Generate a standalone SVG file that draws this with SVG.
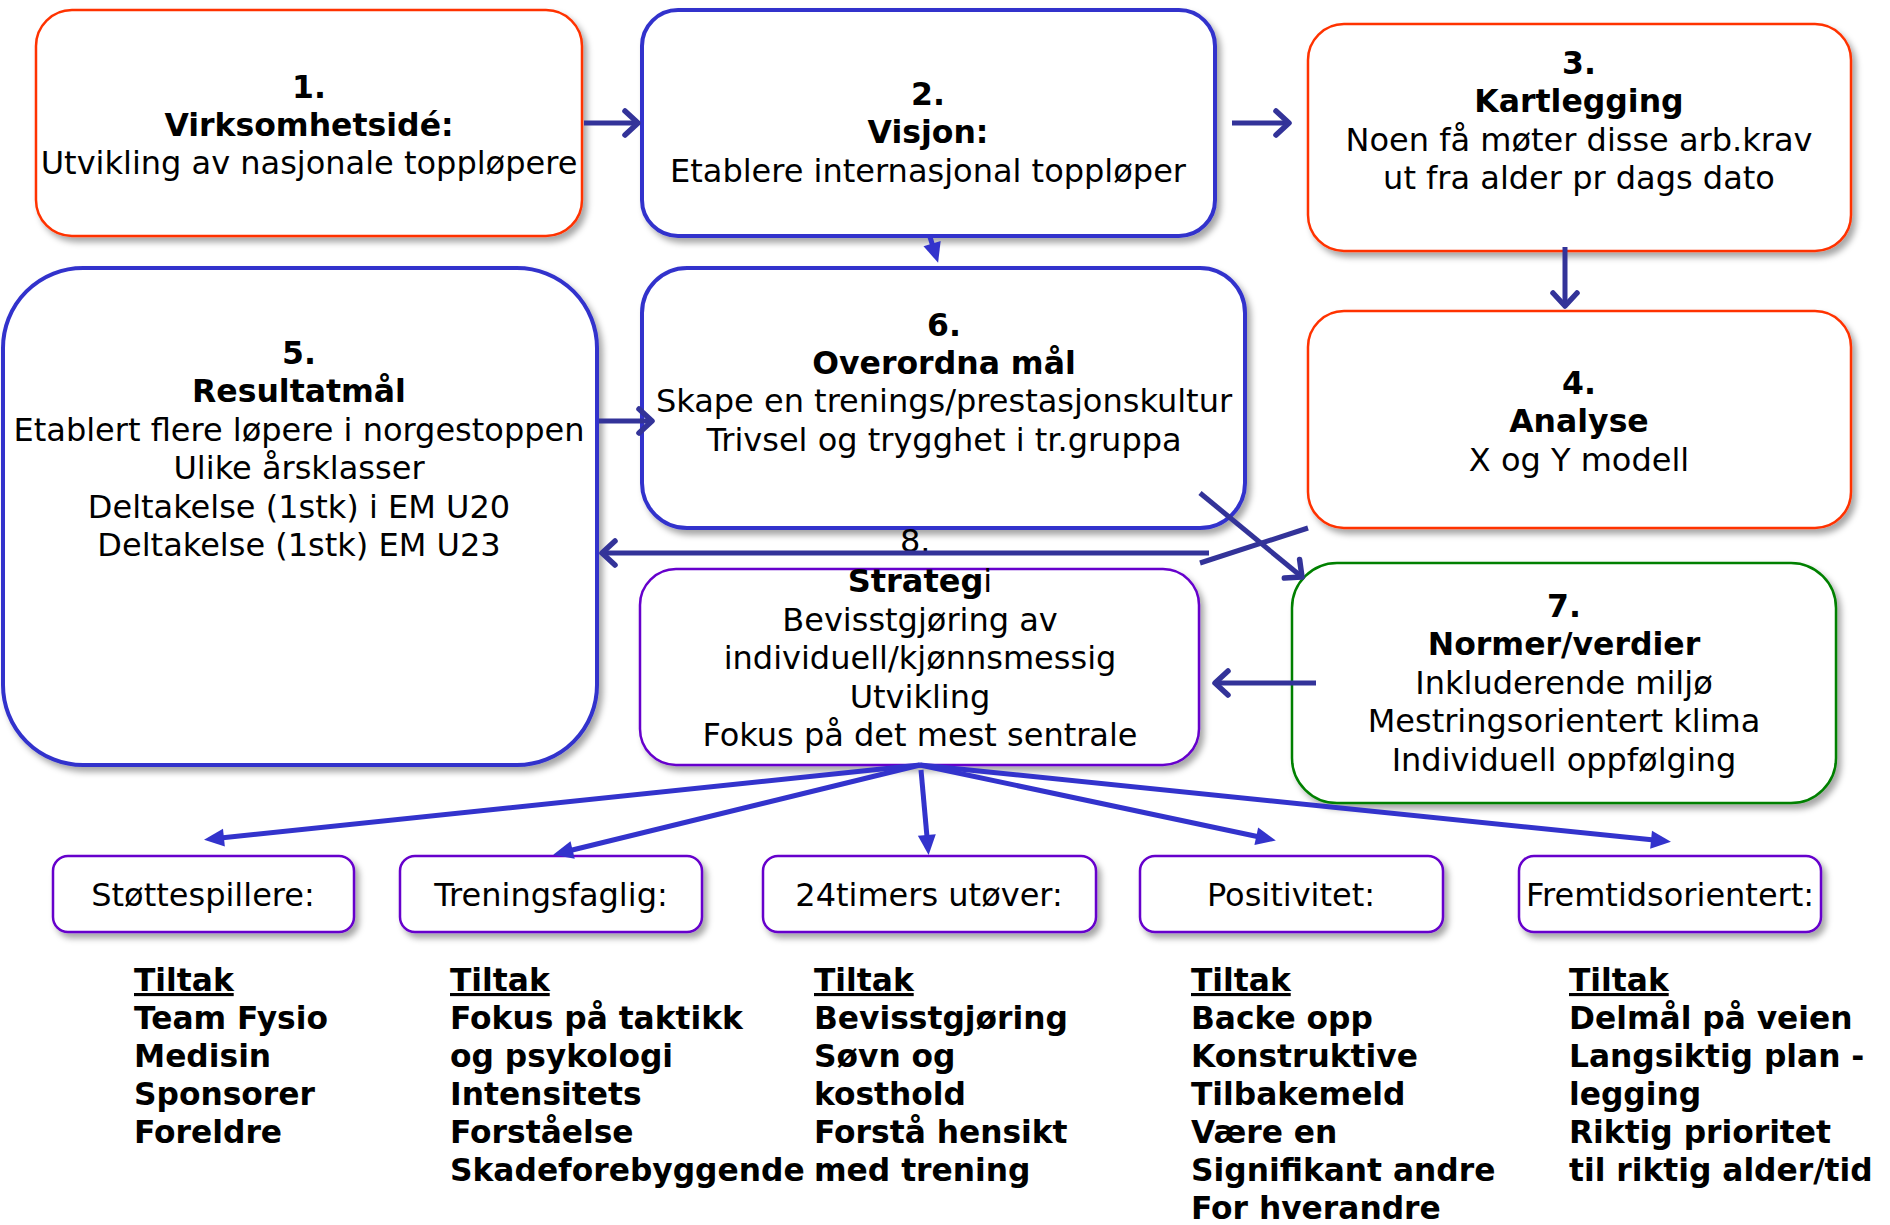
<svg xmlns="http://www.w3.org/2000/svg" width="1890" height="1225" viewBox="0 0 1890 1225">
<style>
text { font-family: "DejaVu Sans", "Verdana", sans-serif; fill: #000; }
.r { font-size: 32px; text-anchor: middle; }
.b { font-size: 31.5px; font-weight: bold; text-anchor: middle; }
.lb { font-size: 31.3px; font-weight: bold; }
.u { text-decoration: underline; }
.box { fill: #fff; filter: url(#sh); }
.red { stroke: #FF3300; stroke-width: 2.5; }
.blue { stroke: #3333CC; stroke-width: 4; }
.green { stroke: #008000; stroke-width: 2.5; }
.purple { stroke: #6600CC; stroke-width: 2.5; }
.c1 { stroke: #333399; stroke-width: 5; fill: none; }
.c2 { stroke: #3333CC; stroke-width: 5; fill: none; }
</style>
<defs>
<filter id="sh" x="-10%" y="-10%" width="130%" height="130%">
<feDropShadow dx="4" dy="5" stdDeviation="3" flood-color="#000" flood-opacity="0.35"/>
</filter>
<marker id="chev" markerUnits="userSpaceOnUse" markerWidth="40" markerHeight="40" viewBox="-20 -20 40 40" refX="0" refY="0" orient="auto">
<path d="M-13,-12 L0,0 L-13,12" fill="none" stroke="#333399" stroke-width="5.5" stroke-linecap="round" stroke-linejoin="round"/>
</marker>
<marker id="tri" markerUnits="userSpaceOnUse" markerWidth="40" markerHeight="40" viewBox="-20 -20 40 40" refX="0" refY="0" orient="auto">
<path d="M-13,-9 L7,0 L-13,9 Z" fill="#3333CC"/>
</marker>
</defs>

<g id="node1">
<rect class="box red" x="36" y="10" width="546" height="226" rx="36"/>
<text class="b" x="309" y="98">1.</text>
<text class="b" x="309" y="136">Virksomhetsidé:</text>
<text class="r" x="309" y="174">Utvikling av nasjonale toppløpere</text>
</g>
<g id="node2">
<rect class="box blue" x="642" y="10" width="573" height="226" rx="36"/>
<text class="b" x="928" y="105">2.</text>
<text class="b" x="928" y="143">Visjon:</text>
<text class="r" x="928" y="182">Etablere internasjonal toppløper</text>
</g>
<g id="node3">
<rect class="box red" x="1308" y="24" width="543" height="227" rx="36"/>
<text class="b" x="1579" y="74">3.</text>
<text class="b" x="1579" y="112">Kartlegging</text>
<text class="r" x="1579" y="151">Noen få møter disse arb.krav</text>
<text class="r" x="1579" y="189">ut fra alder pr dags dato</text>
</g>
<g id="node4">
<rect class="box red" x="1308" y="311" width="543" height="217" rx="36"/>
<text class="b" x="1579" y="394">4.</text>
<text class="b" x="1579" y="432">Analyse</text>
<text class="r" x="1579" y="471">X og Y modell</text>
</g>
<g id="node5">
<rect class="box blue" x="3" y="268" width="594" height="497" rx="80"/>
<text class="b" x="299" y="364">5.</text>
<text class="b" x="299" y="402">Resultatmål</text>
<text class="r" x="299" y="441">Etablert flere løpere i norgestoppen</text>
<text class="r" x="299" y="479">Ulike årsklasser</text>
<text class="r" x="299" y="518">Deltakelse (1stk) i EM U20</text>
<text class="r" x="299" y="556">Deltakelse (1stk) EM U23</text>
</g>
<g id="node6">
<rect class="box blue" x="642" y="268" width="603" height="260" rx="45"/>
<text class="b" x="944" y="336">6.</text>
<text class="b" x="944" y="374">Overordna mål</text>
<text class="r" x="944" y="412">Skape en trenings/prestasjonskultur</text>
<text class="r" x="944" y="451">Trivsel og trygghet i tr.gruppa</text>
</g>
<g id="node7">
<rect class="box green" x="1292" y="563" width="544" height="240" rx="45"/>
<text class="b" x="1564" y="617">7.</text>
<text class="b" x="1564" y="655">Normer/verdier</text>
<text class="r" x="1564" y="694">Inkluderende miljø</text>
<text class="r" x="1564" y="732">Mestringsorientert klima</text>
<text class="r" x="1564" y="771">Individuell oppfølging</text>
</g>
<g id="node8">
<rect class="box purple" x="640" y="569" width="559" height="196" rx="36"/>
<text class="r" x="900" y="552" style="text-anchor:start">8.</text>
<text class="r" x="920" y="592"><tspan font-weight="bold">Strateg</tspan>i</text>
<text class="r" x="920" y="631">Bevisstgjøring av</text>
<text class="r" x="920" y="669">individuell/kjønnsmessig</text>
<text class="r" x="920" y="708">Utvikling</text>
<text class="r" x="920" y="746">Fokus på det mest sentrale</text>
</g>

<g id="node9">
<rect class="box purple" x="53" y="856" width="301" height="76" rx="15"/>
<text class="r" x="203" y="906">Støttespillere:</text>
<text class="lb" x="134" y="991"><tspan class="u">Tiltak</tspan><tspan x="134" dy="38">Team Fysio</tspan><tspan x="134" dy="38">Medisin</tspan><tspan x="134" dy="38">Sponsorer</tspan><tspan x="134" dy="38">Foreldre</tspan></text>
</g>
<g id="node10">
<rect class="box purple" x="400" y="856" width="302" height="76" rx="15"/>
<text class="r" x="551" y="906">Treningsfaglig:</text>
<text class="lb" x="450" y="991"><tspan class="u">Tiltak</tspan><tspan x="450" dy="38">Fokus på taktikk</tspan><tspan x="450" dy="38">og psykologi</tspan><tspan x="450" dy="38">Intensitets</tspan><tspan x="450" dy="38">Forståelse</tspan><tspan x="450" dy="38">Skadeforebyggende</tspan></text>
</g>
<g id="node11">
<rect class="box purple" x="763" y="856" width="333" height="76" rx="15"/>
<text class="r" x="929" y="906">24timers utøver:</text>
<text class="lb" x="814" y="991"><tspan class="u">Tiltak</tspan><tspan x="814" dy="38">Bevisstgjøring</tspan><tspan x="814" dy="38">Søvn og</tspan><tspan x="814" dy="38">kosthold</tspan><tspan x="814" dy="38">Forstå hensikt</tspan><tspan x="814" dy="38">med trening</tspan></text>
</g>
<g id="node12">
<rect class="box purple" x="1140" y="856" width="303" height="76" rx="15"/>
<text class="r" x="1291" y="906">Positivitet:</text>
<text class="lb" x="1191" y="991"><tspan class="u">Tiltak</tspan><tspan x="1191" dy="38">Backe opp</tspan><tspan x="1191" dy="38">Konstruktive</tspan><tspan x="1191" dy="38">Tilbakemeld</tspan><tspan x="1191" dy="38">Være en</tspan><tspan x="1191" dy="38">Signifikant andre</tspan><tspan x="1191" dy="38">For hverandre</tspan></text>
</g>
<g id="node13">
<rect class="box purple" x="1519" y="856" width="302" height="76" rx="15"/>
<text class="r" x="1670" y="906">Fremtidsorientert:</text>
<text class="lb" x="1569" y="991"><tspan class="u">Tiltak</tspan><tspan x="1569" dy="38">Delmål på veien</tspan><tspan x="1569" dy="38">Langsiktig plan -</tspan><tspan x="1569" dy="38">legging</tspan><tspan x="1569" dy="38">Riktig prioritet</tspan><tspan x="1569" dy="38">til riktig alder/tid</tspan></text>
</g>

<g id="connectors">
<line class="c1" x1="584" y1="123" x2="638" y2="123" marker-end="url(#chev)"/>
<line class="c1" x1="1232" y1="123" x2="1289" y2="123" marker-end="url(#chev)"/>
<line class="c1" x1="1565" y1="247" x2="1565" y2="306" marker-end="url(#chev)"/>
<line class="c2" x1="930" y1="237" x2="936" y2="256" marker-end="url(#tri)"/>
<line class="c1" x1="599" y1="421" x2="652" y2="421" marker-end="url(#chev)"/>
<line class="c1" x1="1209" y1="553" x2="602" y2="553" marker-end="url(#chev)"/>
<line class="c1" x1="1200" y1="493" x2="1302" y2="577" marker-end="url(#chev)"/>
<line class="c1" x1="1200" y1="563" x2="1308" y2="528"/>
<line class="c1" x1="1316" y1="683" x2="1215" y2="683" marker-end="url(#chev)"/>
<line class="c2" x1="920" y1="765" x2="211" y2="839" marker-end="url(#tri)"/>
<line class="c2" x1="920" y1="765" x2="560" y2="853" marker-end="url(#tri)"/>
<line class="c2" x1="921" y1="770" x2="928" y2="848" marker-end="url(#tri)"/>
<line class="c2" x1="920" y1="765" x2="1269" y2="839" marker-end="url(#tri)"/>
<line class="c2" x1="920" y1="765" x2="1664" y2="841" marker-end="url(#tri)"/>
</g>
</svg>
